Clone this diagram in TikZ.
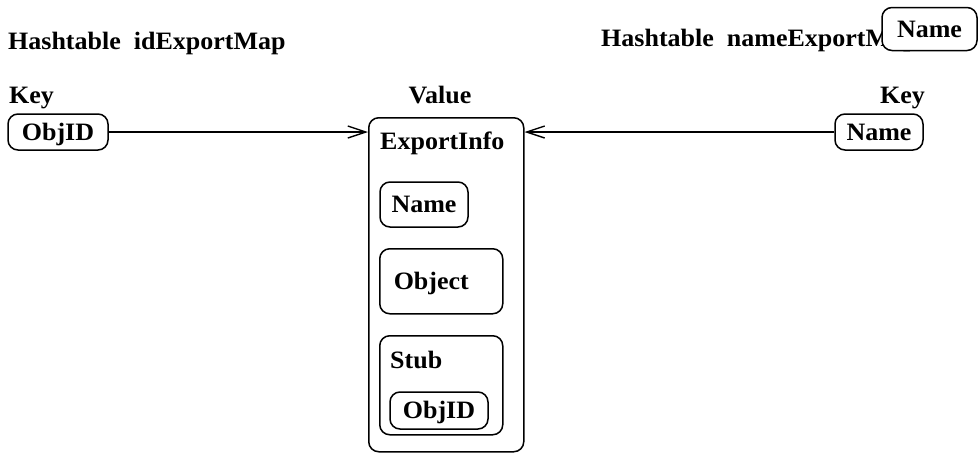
\documentclass[tikz,border=0pt]{standalone}
\usepackage{fontspec}
\setmainfont{Liberation Serif}[FakeStretch=1.04]
\usetikzlibrary{arrows.meta}

\tikzset{
  lbl/.style={inner sep=0pt, font=\fontsize{25}{29}\selectfont\bfseries},
  rbox/.style={draw, rounded corners=10pt, line width=1.5pt, inner sep=0pt,
    text height=16.5pt, text depth=0pt, font=\fontsize{25}{29}\selectfont\bfseries},
  arr/.style={line width=1.4pt, -{Straight Barb[length=18pt,width=12pt,line width=1.4pt]}}
}

\begin{document}
\begin{tikzpicture}[x=1pt,y=-1pt]
        \useasboundingbox (0,0) rectangle (978,453);
        \draw (8,49) node[lbl,anchor=base west](titleid) {Hashtable\ \ idExportMap};
        \draw (601,46) node[lbl,anchor=base west](titlename) {Hashtable\ \ nameExportMap};
        \draw (929.5,29) node[rbox,fill=white,minimum width=95pt,minimum height=43pt](topname) {Name};
        \draw (9,103) node[lbl,anchor=base west](keyidlbl) {Key};
        \draw (440,103) node[lbl,anchor=base](valuelbl) {Value};
        \draw (925,103) node[lbl,anchor=base east](keynamelbl) {Key};
        \draw (58,132) node[rbox,minimum width=100pt,minimum height=36pt](keyid) {ObjID};
        \draw (879,132) node[rbox,minimum width=88pt,minimum height=36pt](keyname) {Name};
        \draw (368,117) node[rbox,anchor=north west,minimum width=155pt,minimum height=334pt](info) {};
        \draw (380,149) node[lbl,anchor=base west](infolbl) {ExportInfo};
        \draw (424,204.5) node[rbox,minimum width=88pt,minimum height=45pt](infoname) {Name};
        \draw (379,248) node[rbox,anchor=north west,align=left,text width=95pt,inner xsep=14pt,minimum height=65pt](infoobj) {Object};
        \draw (379,335) node[rbox,anchor=north west,minimum width=123pt,minimum height=99pt](stub) {};
        \draw (390,368) node[lbl,anchor=base west](stublbl) {Stub};
        \draw (439,410.5) node[rbox,minimum width=98pt,minimum height=37pt](stubid) {ObjID};
        \draw[arr] (keyid.east) -- (keyid.east -| info.west);
        \draw[arr] (keyname.west) -- (keyname.west -| info.east);
\end{tikzpicture}
\end{document}
